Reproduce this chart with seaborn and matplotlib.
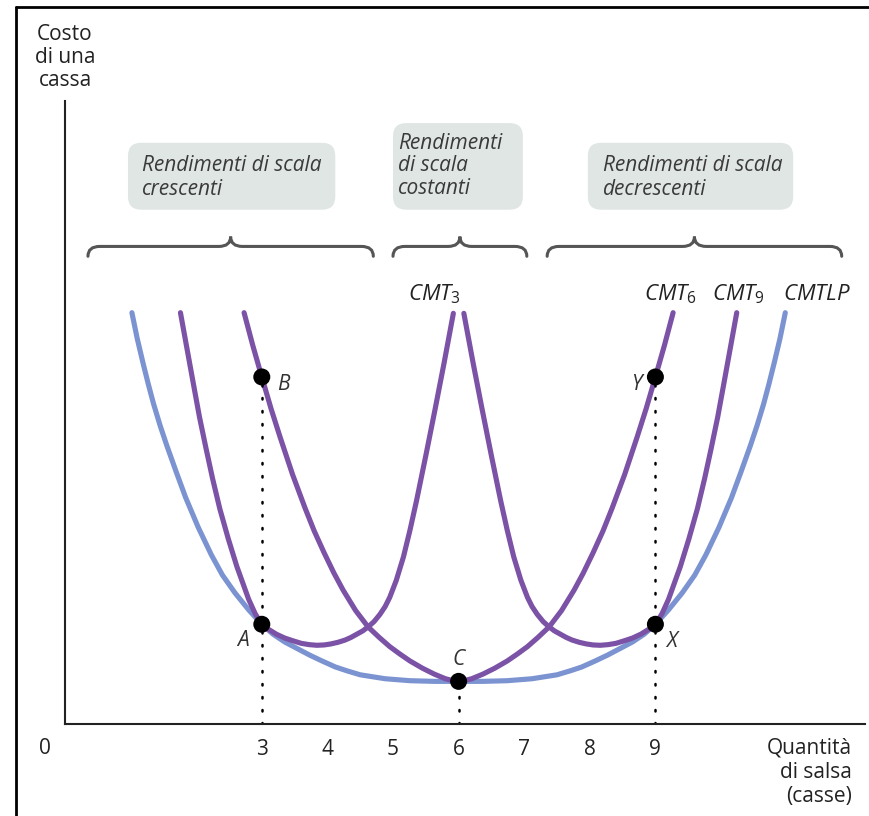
import numpy as np
import pandas as pd
import matplotlib
matplotlib.use("Agg")
import matplotlib.pyplot as plt
import seaborn as sns
from matplotlib.path import Path
from matplotlib.patches import PathPatch, FancyBboxPatch
from matplotlib.lines import Line2D

# Curve data (quantity in cases, cost per case)
cmtlp_x = [1.02, 1.10, 1.19, 1.27, 1.35, 1.45, 1.55, 1.70, 1.84, 2.03, 2.23, 2.40, 2.59, 2.80,
           3.00, 3.17, 3.35, 3.54, 3.73, 3.92, 4.12, 4.30, 4.50, 4.88, 5.26, 5.63, 6.00,
           6.37, 6.74, 7.12, 7.50, 7.70, 7.88, 8.08, 8.27, 8.46, 8.65, 8.83, 9.00, 9.20,
           9.41, 9.60, 9.77, 9.97, 10.16, 10.30, 10.45, 10.55, 10.65, 10.73, 10.81, 10.90, 10.98]
cmtlp_y = [6.27, 5.88, 5.50, 5.18, 4.88, 4.55, 4.25, 3.83, 3.45, 3.00, 2.58, 2.27, 2.00, 1.74,
           1.52, 1.37, 1.25, 1.15, 1.05, 0.96, 0.87, 0.81, 0.75, 0.69, 0.66, 0.65, 0.65,
           0.65, 0.66, 0.69, 0.75, 0.81, 0.87, 0.96, 1.05, 1.15, 1.25, 1.37, 1.52, 1.74,
           2.00, 2.27, 2.58, 3.00, 3.45, 3.83, 4.25, 4.55, 4.88, 5.18, 5.50, 5.88, 6.27]

cmt3_x = [1.76, 1.86, 1.96, 2.05, 2.15, 2.25, 2.36, 2.49, 2.62, 2.71, 2.80, 2.90, 2.95, 3.00,
          3.05, 3.10, 3.22, 3.35, 3.47, 3.60, 3.72, 3.84, 3.95, 4.05, 4.16, 4.27, 4.36, 4.45,
          4.54, 4.62, 4.71, 4.80, 4.88, 4.95, 5.05, 5.16, 5.26, 5.36, 5.50, 5.64, 5.78, 5.92]
cmt3_y = [6.27, 5.72, 5.17, 4.68, 4.20, 3.74, 3.28, 2.82, 2.40, 2.15, 1.90, 1.68, 1.60, 1.52,
          1.48, 1.445, 1.37, 1.31, 1.27, 1.23, 1.21, 1.20, 1.205, 1.22, 1.245, 1.28, 1.32, 1.37,
          1.42, 1.48, 1.56, 1.67, 1.79, 1.93, 2.19, 2.55, 2.96, 3.41, 4.09, 4.79, 5.51, 6.26]

cmt6_x = [2.73, 2.86, 3.00, 3.14, 3.28, 3.47, 3.66, 3.80, 3.95, 4.10, 4.24, 4.43, 4.62, 4.79,
          4.95, 5.10, 5.26, 5.45, 5.63, 5.80, 5.90, 6.00, 6.10, 6.20, 6.37, 6.55, 6.74, 6.90,
          7.05, 7.21, 7.38, 7.57, 7.76, 7.90, 8.05, 8.20, 8.34, 8.53, 8.72, 8.86, 9.00, 9.14, 9.27]
cmt6_y = [6.27, 5.78, 5.29, 4.81, 4.37, 3.80, 3.29, 2.94, 2.61, 2.30, 2.04, 1.73, 1.48, 1.32,
          1.18, 1.07, 0.96, 0.85, 0.76, 0.69, 0.665, 0.65, 0.665, 0.69, 0.76, 0.85, 0.96, 1.07,
          1.18, 1.32, 1.48, 1.73, 2.04, 2.30, 2.61, 2.94, 3.29, 3.80, 4.37, 4.81, 5.29, 5.78, 6.27]

cmt9_x = [6.08, 6.22, 6.36, 6.50, 6.64, 6.74, 6.84, 6.95, 7.05, 7.12, 7.20, 7.29, 7.38, 7.46,
          7.55, 7.64, 7.73, 7.84, 7.95, 8.05, 8.16, 8.28, 8.40, 8.53, 8.65, 8.78, 8.90, 8.95,
          9.00, 9.05, 9.10, 9.20, 9.29, 9.38, 9.51, 9.64, 9.75, 9.85, 9.95, 10.04, 10.14, 10.24]
cmt9_y = [6.26, 5.51, 4.79, 4.09, 3.41, 2.96, 2.55, 2.19, 1.93, 1.79, 1.67, 1.56, 1.48, 1.42,
          1.37, 1.32, 1.28, 1.245, 1.22, 1.205, 1.20, 1.21, 1.23, 1.27, 1.31, 1.37, 1.445, 1.48,
          1.52, 1.60, 1.68, 1.90, 2.15, 2.40, 2.82, 3.28, 3.74, 4.20, 4.68, 5.17, 5.72, 6.27]

point_names = ["A", "B", "C", "X", "Y"]
point_x = [3, 3, 6, 9, 9]
point_y = [1.52, 5.29, 0.65, 1.52, 5.29]

tick_vals = [3, 4, 5, 6, 7, 8, 9]

blue = "#7b93d1"
purple = "#7c52a6"
ink = "#222222"

sns.set_style("white")
plt.rcParams["font.family"] = ["Open Sans", "DejaVu Sans"]
plt.rcParams["mathtext.fontset"] = "custom"
plt.rcParams["mathtext.it"] = "Open Sans:italic"
plt.rcParams["mathtext.rm"] = "Open Sans"

fig = plt.figure(figsize=(8.7, 8.16), dpi=100)
ax = fig.add_axes([65 / 870, 92 / 816, 800 / 870, 623 / 816])
ax.set_xlim(0, 800 / 65.6)
ax.set_ylim(0, 623 / 65.6)

# curves
sns.lineplot(x=cmtlp_x, y=cmtlp_y, sort=False, estimator=None, color=blue, lw=3.7, ax=ax)
for cx, cy in [(cmt3_x, cmt3_y), (cmt6_x, cmt6_y), (cmt9_x, cmt9_y)]:
    sns.lineplot(x=cx, y=cy, sort=False, estimator=None, color=purple, lw=3.7, ax=ax)

# dotted guides down to the axis
for name, px, py in zip(point_names, point_x, point_y):
    if name in ("B", "C", "Y"):
        ax.plot([px, px], [0, py], color="black", lw=1.8, linestyle=(0, (0.6, 4.6)),
                dash_capstyle="round", zorder=2)

sns.scatterplot(x=point_x, y=point_y, color="black", s=150, edgecolor="none", zorder=5, ax=ax)

label_pos = {"A": (2.71, 1.27), "B": (3.33, 5.18), "C": (6.0, 0.99), "X": (9.25, 1.26), "Y": (8.71, 5.18)}
for name in point_names:
    lx, ly = label_pos[name]
    ax.text(lx, ly, name, fontsize=15, style="italic", color="#333333", ha="center", va="center")

# curve labels
ax.text(5.63, 6.55, r"$CMT_3$", fontsize=16, color=ink, ha="center", va="center")
ax.text(9.23, 6.55, r"$CMT_6$", fontsize=16, color=ink, ha="center", va="center")
ax.text(10.26, 6.55, r"$CMT_9$", fontsize=16, color=ink, ha="center", va="center")
ax.text(11.47, 6.55, r"$CMTLP$", fontsize=16, color=ink, ha="center", va="center")


# braces
def brace(x0, x1, y, h=0.15, r=0.18):
    xc = (x0 + x1) / 2
    verts = [(x0, y - h), (x0, y), (x0 + r, y), (xc - r, y), (xc, y), (xc, y + h),
             (xc, y), (xc + r, y), (x1 - r, y), (x1, y), (x1, y - h)]
    codes = [Path.MOVETO, Path.CURVE3, Path.CURVE3, Path.LINETO, Path.CURVE3, Path.CURVE3,
             Path.CURVE3, Path.CURVE3, Path.LINETO, Path.CURVE3, Path.CURVE3]
    ax.add_patch(PathPatch(Path(verts, codes), fc="none", ec="#555555", lw=2.2,
                           capstyle="round", clip_on=False))


brace(0.35, 4.70, 7.28)
brace(5.00, 7.04, 7.28)
brace(7.35, 11.84, 7.28)

# shaded label boxes
boxes = [(0.96, 7.84, 3.16, 1.02), (5.00, 7.84, 1.98, 1.32), (7.97, 7.84, 3.13, 1.02)]
for bx, by, bw, bh in boxes:
    ax.add_patch(FancyBboxPatch((bx, by), bw, bh, boxstyle="round,pad=0,rounding_size=0.2",
                                fc="#dfe6e3", ec="none", clip_on=False))
ax.text(1.17, 8.33, "Rendimenti di scala\ncrescenti", fontsize=15, style="italic",
        color="#3a3a3a", ha="left", va="center", linespacing=1.14)
ax.text(5.08, 8.51, "Rendimenti\ndi scala\ncostanti", fontsize=15, style="italic",
        color="#3a3a3a", ha="left", va="center", linespacing=1.09)
ax.text(8.20, 8.33, "Rendimenti di scala\ndecrescenti", fontsize=15, style="italic",
        color="#3a3a3a", ha="left", va="center", linespacing=1.14)

# axes
for side in ["top", "right"]:
    ax.spines[side].set_visible(False)
for side in ["left", "bottom"]:
    ax.spines[side].set_color(ink)
    ax.spines[side].set_linewidth(1.5)
ax.set_yticks([])
ax.set_xticks(tick_vals)
ax.set_xticklabels([str(t) for t in tick_vals])
ax.tick_params(axis="x", direction="in", length=12, width=1.3, pad=11, labelsize=15,
               colors=ink)
ax.text(-0.30, -0.38, "0", fontsize=15, color=ink, ha="center", va="center")
ax.text(12.0, -0.74, "Quantità\ndi salsa\n(casse)", fontsize=15, color=ink,
        ha="right", va="center", multialignment="right", linespacing=1.2)
ax.text(0.0, 10.16, "Costo\ndi una\ncassa", fontsize=15, color=ink,
        ha="center", va="center", linespacing=1.1)

# outer frame (left and top edges)
fig.add_artist(Line2D([16 / 870, 16 / 870], [0, 1 - 7 / 816], transform=fig.transFigure,
                      color="black", lw=2))
fig.add_artist(Line2D([16 / 870, 1], [1 - 7 / 816, 1 - 7 / 816], transform=fig.transFigure,
                      color="black", lw=2))

fig.savefig("out.png", dpi=100)
